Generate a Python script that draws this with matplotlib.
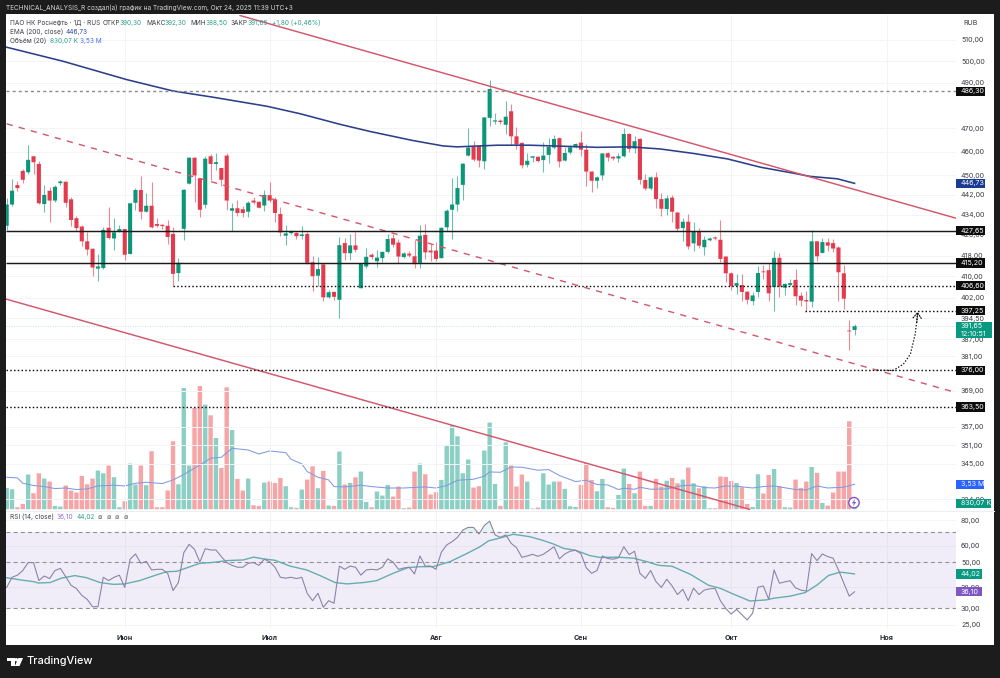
import numpy as np
import matplotlib
matplotlib.use("Agg")
import matplotlib.pyplot as plt
from matplotlib.patches import Rectangle, Circle, Polygon
from matplotlib.ticker import FixedLocator, FixedFormatter, NullLocator
from matplotlib.transforms import Affine2D

plt.rcParams['font.family'] = ['Inter', 'Noto Sans', 'DejaVu Sans']

# Daily candles of the Rosneft session chart
opens = [429.6,438.1,446.0,451.9,451.3,458.0,454.8,438.3,443.7,439.7,446.8,447.4,440.2,432.6,429.3,423.5,420.6,413.0,413.2,428.8,
         424.6,427.2,428.3,418.6,438.8,444.0,435.2,437.6,430.3,430.0,429.6,426.4,411.3,428.4,446.6,457.4,448.8,438.0,458.0,454.8,
         453.1,458.3,435.6,436.6,436.2,435.2,439.7,439.2,437.7,441.9,440.0,434.3,425.7,426.7,426.8,425.6,426.4,415.4,410.3,414.6,
         402.2,404.2,401.3,422.8,418.9,421.9,405.6,413.8,418.3,415.8,417.0,419.4,424.7,423.0,417.4,418.7,417.7,415.2,426.0,419.9,
         419.9,417.0,429.0,436.0,438.1,446.1,458.3,462.2,462.4,455.9,474.5,472.9,473.3,471.5,477.4,466.5,463.7,454.4,457.4,457.8,
         456.4,458.6,461.7,465.7,456.2,459.6,461.8,463.8,460.8,451.6,447.8,450.0,459.3,457.8,457.1,458.0,467.5,461.3,465.4,448.1,
         444.6,449.2,440.3,436.3,440.9,434.9,428.7,431.2,422.7,427.4,421.2,423.9,425.0,424.1,417.6,411.2,406.5,406.8,404.3,400.8,
         404.2,411.9,412.4,406.0,417.1,405.8,406.8,408.7,402.8,401.2,400.6,423.5,419.0,423.1,422.8,421.1,411.2,390.1,390.3]
highs = [440.9,448.6,447.5,452.5,463.0,458.3,456.2,446.1,445.3,446.0,448.0,447.5,441.0,433.6,430.0,427.0,421.0,418.6,429.0,437.2,
         432.7,430.1,428.5,438.8,445.0,449.8,442.6,447.2,432.7,430.5,431.9,429.3,417.0,444.3,457.6,457.6,448.8,458.0,458.8,459.5,
         453.2,459.3,438.6,440.0,437.6,439.4,441.3,439.5,444.0,447.1,441.1,437.2,430.1,428.0,427.3,429.6,427.3,417.9,417.6,414.8,
         405.1,404.7,425.0,424.9,426.4,427.3,415.1,420.8,419.0,420.2,419.9,426.5,426.5,424.4,419.5,419.9,424.2,430.1,430.4,422.5,
         423.1,429.0,436.3,449.1,449.6,455.1,470.0,464.4,462.8,474.8,491.3,476.6,474.0,481.8,480.6,470.7,464.0,459.3,458.2,458.0,
         464.0,465.8,467.2,466.1,462.0,462.6,463.8,469.0,463.2,451.7,449.9,459.6,459.7,458.2,459.3,470.0,468.0,466.7,465.7,450.5,
         449.7,451.3,442.8,442.0,442.0,435.2,432.7,434.3,431.0,428.8,425.7,425.2,425.4,432.0,418.0,411.6,410.8,410.8,404.7,404.0,
         414.0,414.5,415.3,419.6,418.8,407.5,409.1,412.9,404.1,404.7,428.0,423.8,424.7,424.9,424.4,421.8,414.5,393.8,392.3]
lows = [428.0,437.6,443.7,447.0,450.6,450.6,438.3,435.0,431.0,439.0,446.0,437.0,429.6,427.7,421.8,418.3,410.3,408.2,412.8,424.4,
        420.3,427.0,416.4,418.4,436.0,432.3,435.0,428.8,429.0,428.3,422.5,406.5,408.2,424.0,446.4,439.0,433.2,436.7,448.0,452.3,
        445.7,436.0,427.7,433.6,433.0,433.0,438.3,436.5,435.3,439.0,431.3,425.7,422.2,426.4,424.4,424.4,414.7,404.7,406.5,400.8,
        402.0,401.3,394.8,416.2,416.2,419.5,405.5,413.3,416.8,413.7,415.4,419.0,421.2,415.0,417.0,417.6,413.4,413.4,416.6,416.0,
        415.7,416.9,427.7,424.4,435.6,440.0,458.0,456.2,453.4,452.6,471.1,472.0,471.8,467.6,463.0,461.1,453.1,453.6,455.5,455.4,
        451.6,455.0,461.2,453.7,456.1,459.0,461.6,458.3,445.7,443.0,445.0,448.1,456.0,456.4,455.5,457.7,459.7,459.4,446.4,444.0,
        444.0,436.7,433.3,434.0,431.2,427.7,423.5,420.6,419.9,421.0,418.2,423.5,423.9,415.4,407.8,405.0,403.5,401.0,399.8,399.5,
        402.2,409.0,401.0,397.3,402.2,403.2,406.3,399.5,398.9,397.3,398.8,416.0,418.8,419.6,419.2,401.0,398.0,383.0,388.5]
closes = [438.1,443.7,444.8,448.2,456.5,455.5,438.6,442.0,439.7,445.3,447.5,438.8,431.9,428.7,423.5,420.3,413.4,413.8,428.0,424.8,
          427.0,428.3,418.3,438.6,444.0,435.2,437.6,429.0,429.6,429.5,425.2,411.0,415.2,444.1,457.4,450.0,436.0,457.0,454.8,455.5,
          448.2,439.7,436.6,434.7,434.7,438.8,438.9,436.8,442.0,439.7,434.7,427.0,426.6,427.3,425.5,426.2,415.2,410.1,412.8,402.2,
          404.1,402.4,422.0,418.9,421.9,420.2,414.9,417.5,417.4,417.2,419.4,424.4,422.2,417.6,418.8,418.0,414.7,425.7,419.2,419.2,
          416.7,428.8,435.6,438.1,444.8,454.9,461.7,456.6,456.2,474.7,487.3,473.4,472.7,475.0,466.5,463.0,454.2,456.1,458.0,456.0,
          458.3,462.0,465.4,455.8,459.4,461.8,463.2,460.8,451.6,447.8,449.2,459.2,457.5,457.1,458.0,467.5,461.1,464.4,448.2,444.6,
          449.2,440.3,436.4,440.6,435.2,428.4,431.2,421.5,427.4,421.8,424.1,424.6,424.6,416.7,411.2,406.3,407.5,404.2,401.3,402.9,
          411.3,411.6,403.7,417.1,406.2,407.2,407.5,402.6,401.0,400.7,423.5,417.7,423.2,421.8,420.7,411.6,401.7,389.8,391.65]

# Volume per session, millions of shares
volumes = [3.01,2.82,0.28,0.75,4.90,2.26,5.08,4.33,3.91,0.47,0.38,3.35,2.64,2.36,4.70,3.53,4.33,5.46,5.08,6.17,
           4.52,0.28,1.13,6.45,3.49,6.17,3.39,8.19,0.28,0.28,2.64,9.60,3.53,17.13,6.17,14.30,17.41,14.78,13.27,10.07,
           5.83,17.23,11.20,4.28,2.64,4.33,0.56,0.47,3.77,3.91,3.71,4.42,3.25,0.28,0.18,2.78,4.19,6.07,2.97,5.41,
           0.52,0.47,8.15,3.49,3.71,4.52,5.32,1.03,0.28,2.50,1.93,3.43,1.79,3.21,0.14,0.24,5.32,6.45,4.94,2.08,
           2.40,4.14,9.04,11.82,10.31,5.08,7.02,3.06,3.25,8.29,12.24,3.57,0.47,9.46,6.17,3.21,4.90,3.91,0.10,0.24,
           5.08,3.49,3.91,3.91,2.87,0.42,0.32,3.43,6.54,4.14,2.54,4.28,0.28,0.18,2.02,5.75,3.57,2.26,5.32,0.47,
           0.47,4.28,3.21,4.03,4.42,3.67,4.19,5.89,3.67,2.97,3.25,0.14,0.14,4.62,4.56,4.00,3.71,3.11,0.75,0.32,
           4.94,2.22,4.84,5.69,3.25,0.28,0.24,4.19,3.01,3.91,5.97,5.13,0.89,0.52,2.36,5.32,5.32,12.43,0.83]

# Volume moving average, read at its turning points
vol_ma_bars = [0,2,3,5,7,9,11,13,15,17,20,22,24,26,29,31,33,36,38,40,42,45,47,49,52,53,55,56,58,60,61,63,66,68,71,74,78,80,82,84,87,89,90,92,94,96,99,
               101,103,106,108,110,112,114,115,117,118,120,123,126,128,130,132,134,136,139,141,143,147,149,151,153,156,158]
vol_ma_vals = [4.52,4.42,3.67,3.35,3.20,2.92,3.00,2.78,2.87,3.29,3.39,3.29,3.67,3.81,3.63,4.14,4.90,6.25,7.20,7.34,8.61,8.37,7.81,8.23,8.00,7.06,6.40,5.32,4.52,4.14,3.20,3.15,3.39,3.20,3.00,3.00,3.15,3.00,3.35,4.09,4.24,4.66,5.27,5.22,5.97,5.93,5.51,
               5.60,4.76,3.91,4.09,3.49,3.43,2.78,2.97,2.82,3.11,2.82,2.87,3.35,3.39,3.06,3.00,3.29,3.25,3.00,3.20,3.29,2.78,2.72,3.29,3.00,3.11,3.53]

# EMA 200 line
ema_bars = [0,10.5,22.4,31,38.5,48.5,54.7,62.1,67.7,75.7,81.3,83.9,91.4,97.5,110,116.2,121.8,128,134.3,140.5,146.7,149.7,154.8,158]
ema_vals = [506.4,499.9,491.5,486.4,483.6,479.6,476.3,471.7,468.6,464.7,462.4,462.0,462.7,462.7,461.8,462.0,461.1,459.2,456.9,453.4,450.9,449.6,448.6,446.73]

# RSI(14) per session
rsi_vals = [37.9,42.4,43.4,45.7,49.9,49.9,40.9,43.0,41.8,45.7,46.8,42.7,38.8,37.4,34.7,33.2,30.6,30.6,42.4,40.9,
            42.4,43.4,37.9,51.8,54.9,49.5,50.6,46.0,46.3,46.3,44.3,36.6,40.0,55.7,61.1,57.8,50.2,58.2,57.4,57.4,
            53.3,49.9,48.4,47.4,47.4,49.5,49.9,48.4,51.8,50.4,47.4,42.4,42.0,42.4,41.8,42.4,35.5,32.7,35.5,30.4,
            32.7,31.8,48.0,46.3,48.0,47.4,43.4,46.0,46.3,46.0,47.4,52.0,50.2,46.3,47.0,47.4,44.0,53.7,48.0,48.0,
            46.3,56.0,60.7,62.9,66.0,71.6,73.7,73.7,68.5,75.3,79.0,67.8,66.0,67.8,61.8,58.9,52.9,53.7,54.7,53.5,
            54.7,57.0,59.5,52.0,54.9,56.6,57.2,55.1,47.1,44.3,45.7,53.7,52.2,51.8,52.6,59.5,54.5,56.6,44.3,41.9,
            45.7,40.4,37.9,41.5,38.5,35.0,37.1,32.7,37.6,35.0,36.8,37.3,37.5,32.7,30.0,28.2,29.7,28.0,26.4,28.5,
            38.0,38.5,33.2,46.0,39.7,40.3,40.8,37.7,36.8,36.4,55.1,51.0,54.9,53.3,52.4,46.0,39.7,34.4,36.1]

# RSI moving average, read at its turning points
rsi_ma_bars = [0,2.5,5,5.9,8.1,10.2,12.7,14.9,17.4,19.9,22,24.8,28,29.8,31.7,34.2,36,38.5,41,44.1,46,47.8,50,52.8,55.9,58.4,61.2,63.4,66.5,68.9,72,74.8,77.1,79.5,82.6,85.7,88.2,89.8,
               92,94.4,97.5,100,101.9,103.8,106,108.7,110.6,113.7,116.8,119.3,121.5,124,127.4,130.8,133,135.4,138.5,141.6,142.9,146,148.8,151,153.1,155.3,158]
rsi_ma_vals = [42.2,41.2,40.4,39.8,40.0,42.0,43.2,42.2,40.0,39.2,39.4,40.9,43.6,45.1,45.3,47.7,49.5,50.0,51.0,51.4,53.0,52.0,51.2,48.0,46.0,43.2,40.0,39.4,40.0,40.8,44.3,47.2,47.7,47.7,50.4,55.1,59.5,63.5,
               65.6,68.3,66.5,63.7,61.3,58.4,57.2,53.9,52.8,53.0,52.4,50.4,48.4,47.9,43.8,38.8,37.5,35.2,32.6,33.0,33.6,34.4,35.8,38.9,43.2,44.9,44.02]

# Trend lines and levels
upper_line = ([43.5, 176.76], [521.4, 432.7])
middle_line = ([0, 176.76], [471.9, 368.5])
lower_line = ([-0.2, 138.55], [401.6, 330.8])
level_values = [486.30, 427.65, 415.20, 406.60, 397.25, 376.00, 363.50]
level_starts = [None, None, None, 31, 148.8, None, None]
level_styles = ['gray', 'solid', 'solid', 'dots', 'dots', 'dots', 'dots']

# Expected path of the rebound
path_bars = [162.2, 165.2, 167.1, 168.4, 169.3, 169.7]
path_vals = [376.1, 376.0, 378.2, 381.7, 388.8, 395.5]

price_ticks = [510, 500, 490, 470, 460, 450, 442, 434, 426, 418, 410, 402, 394.5, 387, 381, 369, 357, 351, 345, 334]
rsi_ticks = [80, 60, 50, 38, 30, 25]
month_bars = [22, 49, 80, 107, 135, 164]
month_names = ['Июн', 'Июл', 'Авг', 'Сен', 'Окт', 'Ноя']

GREEN = '#0b9679'
RED = '#e33a4d'
VOL_GREEN = '#8ccfc4'
VOL_RED = '#f6a5a7'
TREND = '#d3566b'
GRID = '#f3f4f6'
TEXT = '#3a3d45'
FS = 4.65
FS_SCALE = 5.1


def ru(v):
    return f'{v:.2f}'.replace('.', ',')


W, H = 1000, 678
fig = plt.figure(figsize=(W / 100, H / 100), dpi=100, facecolor='#1c1c1c')
to_fig = Affine2D().scale(1 / W, -1 / H).translate(0, 1) + fig.transFigure

fig.add_artist(Rectangle((5.5, 14), 988.5, 631, transform=to_fig, fc='white', ec='none', zorder=-5))


def pane(top, bottom):
    return [5.5 / W, 1 - bottom / H, (956 - 5.5) / W, (bottom - top) / H]


ax_vol = fig.add_axes(pane(14.5, 510.5), zorder=1)
ax = fig.add_axes(pane(14.5, 510.5), zorder=2, sharex=ax_vol)
ax_rsi = fig.add_axes(pane(511, 629), zorder=2, sharex=ax_vol)
for a in (ax_vol, ax, ax_rsi):
    a.patch.set_visible(False)
    for s in a.spines.values():
        s.set_visible(False)

bars = np.arange(len(closes))
o, h, l, c = map(np.array, (opens, highs, lows, closes))
up = c >= o

# Volume histogram and its average
ax_vol.bar(bars, volumes, width=0.82, color=[VOL_GREEN if u else VOL_RED for u in up], zorder=2, snap=False)
ax_vol.plot(vol_ma_bars, vol_ma_vals, color='#7f9be2', lw=0.75, zorder=3)
ax_vol.set_ylim(-0.18, 69.9)
ax_vol.set_xlim(-0.22, 176.9)
ax_vol.axis('off')

# Price pane
ax.set_yscale('log')
ax.set_ylim(330.5, 521.9)
ax.yaxis.set_major_locator(FixedLocator(price_ticks))
ax.yaxis.set_major_formatter(FixedFormatter([ru(t) for t in price_ticks]))
ax.yaxis.set_minor_locator(NullLocator())
ax.yaxis.tick_right()
ax.tick_params(axis='y', length=0, pad=3.6, labelsize=FS_SCALE, labelcolor=TEXT)
ax.set_xticks(month_bars)
ax.tick_params(axis='x', length=0, labelbottom=False)
ax.grid(True, color=GRID, lw=0.7, zorder=0)
ax.set_axisbelow(True)

colors = np.where(up, GREEN, RED)
ax.vlines(bars, l, h, colors=colors, lw=0.8, alpha=0.6, zorder=3)
ax.bar(bars, c - o, bottom=o, width=0.76, color=colors, zorder=4, snap=False)

ax.plot(ema_bars, ema_vals, color='#2b3f8a', lw=1.15, zorder=5)
ax.plot(*upper_line, color=TREND, lw=1.05, zorder=6)
ax.plot(*lower_line, color=TREND, lw=1.05, zorder=6, solid_capstyle='butt')
ax.plot(*middle_line, color=TREND, lw=1.0, ls=(0, (4.5, 4.5)), zorder=6)

right_edge = ax.get_xlim()[1]
left_edge = ax.get_xlim()[0]
ax.hlines(391.65, left_edge, right_edge, colors='#bfe3dc', lw=0.7, ls=(0, (1, 1.5)), zorder=2)
for val, start, style in zip(level_values, level_starts, level_styles):
    x0 = left_edge if start is None else start
    if style == 'solid':
        ax.hlines(val, x0, right_edge, colors='#1a1a1a', lw=1.05, zorder=7)
    elif style == 'gray':
        ax.hlines(val, x0, right_edge, colors='#8a8a8a', lw=1.0, ls=(0, (2.2, 2.2)), zorder=7)
    else:
        ax.hlines(val, x0, right_edge, colors='#111111', lw=1.0, ls=(0, (1.1, 1.6)), zorder=7)

ax.plot(path_bars, path_vals, color='#111111', lw=0.9, ls=(0, (1.1, 1.4)), zorder=8)
ax.annotate('', xy=(169.75, 396.9), xytext=(169.6, 393),
            arrowprops=dict(arrowstyle='->,head_length=0.4,head_width=0.3', lw=0.8, color='#111111',
                            ls=(0, (1.1, 1.2)), shrinkA=0, shrinkB=0), zorder=8)

# RSI pane
ax_rsi.set_yscale('log')
ax_rsi.set_ylim(23.9, 88.4)
ax_rsi.yaxis.set_major_locator(FixedLocator(rsi_ticks))
ax_rsi.yaxis.set_major_formatter(FixedFormatter([ru(t) for t in rsi_ticks]))
ax_rsi.yaxis.set_minor_locator(NullLocator())
ax_rsi.yaxis.tick_right()
ax_rsi.tick_params(axis='y', length=0, pad=3.6, labelsize=FS_SCALE, labelcolor=TEXT)
ax_rsi.set_xticks(month_bars)
ax_rsi.set_xticklabels(month_names, fontsize=FS_SCALE, fontweight='bold', color='#2a2d35')
ax_rsi.tick_params(axis='x', length=0, pad=4.5)
ax_rsi.grid(True, color=GRID, lw=0.7, zorder=0)
ax_rsi.set_axisbelow(True)
ax_rsi.axhspan(30, 70, color='#7e57c2', alpha=0.1, lw=0, zorder=1)
for lvl in (70, 50, 30):
    ax_rsi.axhline(lvl, color='#8f8f98', lw=0.8, ls=(0, (3.5, 3)), zorder=2)
rsi_arr = np.array(rsi_vals)
ax_rsi.fill_between(bars, 70, rsi_arr, where=rsi_arr > 70, interpolate=True, color='#089981', alpha=0.1, lw=0, zorder=2)
ax_rsi.plot(rsi_ma_bars, rsi_ma_vals, color='#66adb0', lw=1.0, zorder=3)
ax_rsi.plot(bars, rsi_vals, color='#8d84a6', lw=0.8, zorder=4)

# Pane divider
fig.add_artist(plt.Line2D([5.5, 994], [510.5, 510.5], transform=to_fig, color='#eceef1', lw=0.8, zorder=-1))


def label(x, y, s, color=TEXT, size=FS, weight='normal', ha='left'):
    fig.text(x / W, 1 - y / H, s, color=color, fontsize=size, va='center', ha=ha, fontweight=weight, zorder=30)


def tag(axis_obj, value, text, face, width=29, height=9.4):
    # Scale tag: a filled box on the price scale, centred on the value's pixel row
    row = H - axis_obj.transData.transform((0, value))[1]
    fig.add_artist(Rectangle((956, row - height / 2), width, height, transform=to_fig, fc=face, ec='none', zorder=25))
    label(961, row, text, color='white', size=FS_SCALE)


for val in level_values:
    tag(ax, val, ru(val), '#0c0c0c')
tag(ax, 446.73, ru(446.73), '#1b3a92')

# Last-price tag carries the bar countdown under the price
last_row = H - ax.transData.transform((0, 391.65))[1]
fig.add_artist(Rectangle((956, last_row - 4.5), 36, 16.5, transform=to_fig, fc='#089981', ec='none', zorder=25))
label(961, last_row, ru(391.65), color='white', size=FS_SCALE)
label(961, last_row + 8, '12:10:51', color='white', size=FS_SCALE)

tag(ax_vol, 3.53, '3,53 M', '#2962ff', width=28)
tag(ax_vol, 0.83, '830,07 K', '#089981', width=35)
tag(ax_rsi, 44.02, ru(44.02), '#089981', width=26)
tag(ax_rsi, 36.10, ru(36.10), '#7e57c2', width=26)
label(963, 23, 'RUB', size=FS_SCALE)

label(6, 8, 'TECHNICAL_ANALYSIS_R создал(а) график на TradingView.com, Окт 24, 2025 11:39 UTC+3', color='#d8d8d8')

VAL = '#2f9e8a'
label(10, 23, 'ПАО НК Роснефть · 1Д · RUS')
for x, name, x2, num in [(103, 'ОТКР', 120, '390,30'), (146, 'МАКС', 165, '392,30'),
                         (190, 'МИН', 206, '388,50'), (231, 'ЗАКР', 248, '391,65')]:
    label(x, 23, name)
    label(x2, 23, num, color=VAL)
label(272, 23, '+1,80 (+0,46%)', color=VAL)
label(10, 32, 'EMA (200, close)')
label(66, 32, '446,73', color='#2b4a9a')
label(10, 41, 'Объём (20)')
label(50, 41, '830,07 K', color=VAL)
label(80, 41, '3,53 M', color='#3f6fe0')
label(10, 517, 'RSI (14, close)')
label(57, 517, '36,10', color='#8e6fd0')
label(77, 517, '44,02', color=VAL)
for x in (98, 107, 115, 124):
    label(x, 517, '∅', color='#555555')

# Session-break marker beside the last bar
fig.add_artist(Circle((854, 502.7), 5.2, transform=to_fig, fc='white', ec='#7e57c2', lw=1.0, zorder=25))
fig.add_artist(Polygon([(855.2, 498.8), (851.9, 503.3), (853.9, 503.3), (852.9, 506.6), (856.2, 502.0), (854.2, 502.0)],
                       closed=True, transform=to_fig, fc='#7e57c2', ec='none', zorder=26))

# Footer logo
for pts in ([(7, 658), (14.5, 658), (14.5, 666), (10.6, 666), (10.6, 661.4), (7, 661.4)],
            [(18.3, 658), (23, 658), (19.5, 666), (14.9, 666)]):
    fig.add_artist(Polygon(pts, closed=True, transform=to_fig, fc='white', ec='none', zorder=25))
fig.add_artist(Circle((16.3, 659.7), 1.7, transform=to_fig, fc='white', ec='none', zorder=25))
label(26.5, 661.5, 'TradingView', color='white', size=7.9, weight='medium')

fig.savefig('out.png', dpi=100, facecolor=fig.get_facecolor())
